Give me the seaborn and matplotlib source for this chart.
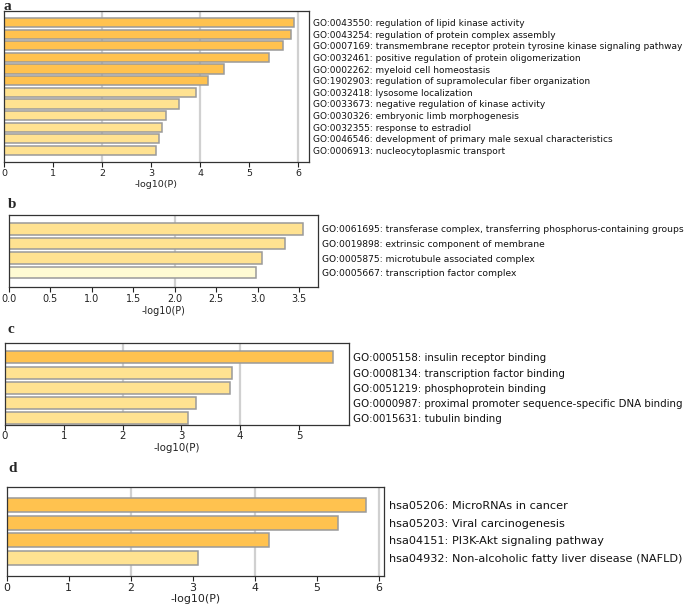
import matplotlib
matplotlib.use("Agg")
import matplotlib.pyplot as plt
import seaborn as sns
import pandas as pd

sns.set_theme(style="white")
plt.rcParams['font.family'] = ['DejaVu Sans']

# ---------------- data ----------------
a_terms = [
    "GO:0043550: regulation of lipid kinase activity",
    "GO:0043254: regulation of protein complex assembly",
    "GO:0007169: transmembrane receptor protein tyrosine kinase signaling pathway",
    "GO:0032461: positive regulation of protein oligomerization",
    "GO:0002262: myeloid cell homeostasis",
    "GO:1902903: regulation of supramolecular fiber organization",
    "GO:0032418: lysosome localization",
    "GO:0033673: negative regulation of kinase activity",
    "GO:0030326: embryonic limb morphogenesis",
    "GO:0032355: response to estradiol",
    "GO:0046546: development of primary male sexual characteristics",
    "GO:0006913: nucleocytoplasmic transport",
]
a_values = [5.92, 5.86, 5.69, 5.41, 4.48, 4.17, 3.92, 3.56, 3.30, 3.22, 3.17, 3.09]

b_terms = [
    "GO:0061695: transferase complex, transferring phosphorus-containing groups",
    "GO:0019898: extrinsic component of membrane",
    "GO:0005875: microtubule associated complex",
    "GO:0005667: transcription factor complex",
]
b_values = [3.54, 3.33, 3.05, 2.98]

c_terms = [
    "GO:0005158: insulin receptor binding",
    "GO:0008134: transcription factor binding",
    "GO:0051219: phosphoprotein binding",
    "GO:0000987: proximal promoter sequence-specific DNA binding",
    "GO:0015631: tubulin binding",
]
c_values = [5.57, 3.86, 3.83, 3.24, 3.11]

d_terms = [
    "hsa05206: MicroRNAs in cancer",
    "hsa05203: Viral carcinogenesis",
    "hsa04151: PI3K-Akt signaling pathway",
    "hsa04932: Non-alcoholic fatty liver disease (NAFLD)",
]
d_values = [5.80, 5.34, 4.23, 3.09]

# ---------------- style ----------------
DARK = "#FFC24F"
LIGHT = "#FFE291"
PALE = "#FFFBD3"
EDGE = "#9a9a9a"
a_colors = [DARK] * 6 + [LIGHT] * 6
b_colors = [LIGHT, LIGHT, LIGHT, PALE]
c_colors = [DARK] + [LIGHT] * 4
d_colors = [DARK] * 3 + [LIGHT]

W, H = 685, 611
fig = plt.figure(figsize=(W / 100, H / 100), dpi=100)
renderer = fig.canvas.get_renderer()


def fit_size(text, target_px):
    t = fig.text(0, 0, text, fontsize=10)
    w = t.get_window_extent(renderer).width
    t.remove()
    return 0.99 * 10 * target_px / w


def panel(terms, values, colors, box, xmax, ylim, ticks, grid, letter, letter_xy,
          label_start, pad_px, labelpad, xscale):
    left, right, top, bottom = box
    ax = fig.add_axes([left / W, 1 - bottom / H, (right - left) / W, (bottom - top) / H])
    df = pd.DataFrame({"term": terms, "val": values})
    for g in grid:
        ax.axvline(g, color="#d0d0d0", lw=1.6, zorder=0)
    sns.barplot(data=df, y="term", x="val", hue="term", palette=colors, legend=False,
                orient="h", width=0.8, saturation=1, edgecolor=EDGE, linewidth=1.1,
                ax=ax, zorder=2)
    ax.set_xlim(0, xmax)
    ax.set_ylim(*ylim)
    ax.set_xticks(ticks)
    fs = fit_size(max(terms, key=len), 684 - label_start)
    ax.yaxis.tick_right()
    ax.set_ylabel("")
    ax.tick_params(axis="y", length=0, pad=pad_px * 0.72, labelsize=fs, colors="#111111")
    ax.tick_params(axis="x", bottom=True, length=3.5, width=0.8, direction="out",
                   labelsize=fs * xscale, pad=1.5, colors="#222222")
    ax.set_xlabel("-log10(P)", fontsize=fs * xscale, labelpad=labelpad, color="#222222")
    for s in ax.spines.values():
        s.set_visible(True)
        s.set_color("#333333")
        s.set_linewidth(0.9)
    ax.grid(False)
    fig.text(letter_xy[0] / W, 1 - letter_xy[1] / H, letter, fontsize=11,
             fontweight="bold", family="Liberation Serif", va="baseline", ha="left")
    return ax


panel(a_terms, a_values, a_colors, (4, 309, 11, 162), 6.22, (12, -1),
      [0, 1, 2, 3, 4, 5, 6], [2, 4, 6], "a", (3, 10), 313, 4, 1.5, 1.05)
panel(b_terms, b_values, b_colors, (8.5, 317.5, 214.5, 287), 3.72, (4, -1),
      [0, 0.5, 1, 1.5, 2, 2.5, 3, 3.5], [2], "b", (8, 208), 321, 4, 1.5, 1.05)
panel(c_terms, c_values, c_colors, (5, 349, 342.5, 424.5), 5.85, (4.44, -0.99),
      [0, 1, 2, 3, 4, 5], [2, 4], "c", (8, 333), 353, 4, 1.0, 1.0)
panel(d_terms, d_values, d_colors, (6.7, 384.3, 487.3, 575.7), 6.09, (4, -1),
      [0, 1, 2, 3, 4, 5, 6], [2, 4, 6], "d", (8, 472), 389, 5, 1.0, 0.98)

fig.savefig("out.png", dpi=100)
